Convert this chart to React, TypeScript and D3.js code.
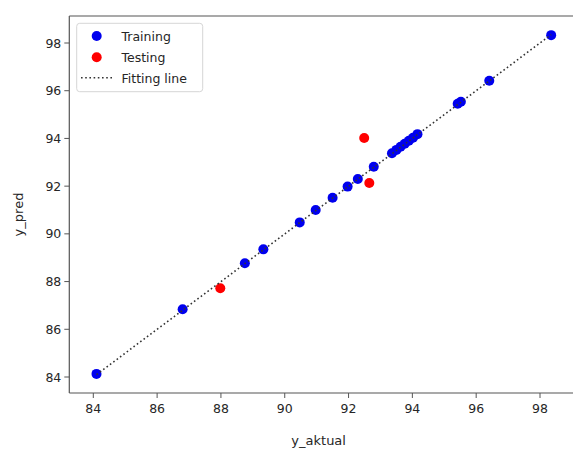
import React from "react";
import * as d3 from "d3";

const trainActual = [84.1, 86.8, 88.75, 89.33, 90.47, 90.97, 91.5, 91.97, 92.29, 92.79, 93.36, 93.5, 93.63, 93.76, 93.89, 94.02, 94.16, 95.42, 95.52, 96.41, 98.35];
const trainPred = [84.13, 86.84, 88.77, 89.35, 90.48, 91.0, 91.51, 91.98, 92.3, 92.81, 93.38, 93.52, 93.65, 93.78, 93.9, 94.03, 94.18, 95.45, 95.54, 96.42, 98.33];
const testActual = [87.98, 92.49, 92.65];
const testPred = [87.72, 94.02, 92.13];
const fitLine = [84.1, 98.35];
const xTicks = [84, 86, 88, 90, 92, 94, 96, 98];
const yTicks = [84, 86, 88, 90, 92, 94, 96, 98];
const legendLabels = ["Training", "Testing", "Fitting line"];

const W = 573;
const H = 451;
const left = 69.3;
const right = 575;
const top = 16;
const bottom = 393;

export default function App() {
  const x = d3.scaleLinear().domain([84, 98]).range([93.3, 540]);
  const y = d3.scaleLinear().domain([84, 98]).range([377, 43]);
  const font = "DejaVu Sans, sans-serif";
  const textColor = "#262626";
  const lineGen = d3
    .line<number>()
    .x((d) => x(d))
    .y((d) => y(d));

  return (
    <svg
      width={W}
      height={H}
      style={{ position: "absolute", left: 0, top: 0, background: "#fff" }}
    >
      <rect x={0} y={0} width={W} height={H} fill="#fff" />
      {trainActual.map((d, i) => (
        <circle key={"tr" + i} cx={x(d)} cy={y(trainPred[i])} r={5} fill="#0000ee" />
      ))}
      {testActual.map((d, i) => (
        <circle key={"te" + i} cx={x(d)} cy={y(testPred[i])} r={5} fill="#ff0000" />
      ))}
      <path
        d={lineGen(fitLine) || ""}
        fill="none"
        stroke="#333"
        strokeWidth={1.6}
        strokeDasharray="1.6,2.6"
      />
      <line x1={left} y1={top} x2={left} y2={bottom} stroke="#555" strokeWidth={1.2} />
      <line x1={left} y1={bottom} x2={right} y2={bottom} stroke="#555" strokeWidth={1.2} />
      <line x1={left} y1={top} x2={right} y2={top} stroke="#555" strokeWidth={1.2} />
      {xTicks.map((t) => (
        <g key={"xt" + t}>
          <line x1={x(t)} x2={x(t)} y1={bottom} y2={bottom + 5} stroke="#555" strokeWidth={1} />
          <text
            x={x(t)}
            y={bottom + 20}
            textAnchor="middle"
            fontFamily={font}
            fontSize={12.5}
            fill={textColor}
          >
            {t}
          </text>
        </g>
      ))}
      {yTicks.map((t) => (
        <g key={"yt" + t}>
          <line x1={left - 5} x2={left} y1={y(t)} y2={y(t)} stroke="#555" strokeWidth={1} />
          <text
            x={left - 8}
            y={y(t) + 4.5}
            textAnchor="end"
            fontFamily={font}
            fontSize={12.5}
            fill={textColor}
          >
            {t}
          </text>
        </g>
      ))}
      <text
        x={(left + 572) / 2 - 2}
        y={445}
        textAnchor="middle"
        fontFamily={font}
        fontSize={13}
        fill={textColor}
      >
        y_aktual
      </text>
      <text
        transform={`translate(23, ${(top + bottom) / 2 + 10}) rotate(-90)`}
        textAnchor="middle"
        fontFamily={font}
        fontSize={13}
        fill={textColor}
      >
        y_pred
      </text>
      <rect
        x={76.7}
        y={23.3}
        width={126}
        height={68.4}
        rx={3}
        fill="#fff"
        fillOpacity={0.8}
        stroke="#d6d6d6"
        strokeWidth={1}
      />
      <circle cx={96.7} cy={36} r={5} fill="#0000ee" />
      <circle cx={96.7} cy={57.3} r={5} fill="#ff0000" />
      <line
        x1={81}
        x2={112}
        y1={77.7}
        y2={77.7}
        stroke="#333"
        strokeWidth={1.6}
        strokeDasharray="1.6,2.6"
      />
      {legendLabels.map((l, i) => (
        <text
          key={l}
          x={121.5}
          y={40.5 + i * 21}
          fontFamily={font}
          fontSize={12.5}
          fill={textColor}
        >
          {l}
        </text>
      ))}
    </svg>
  );
}
